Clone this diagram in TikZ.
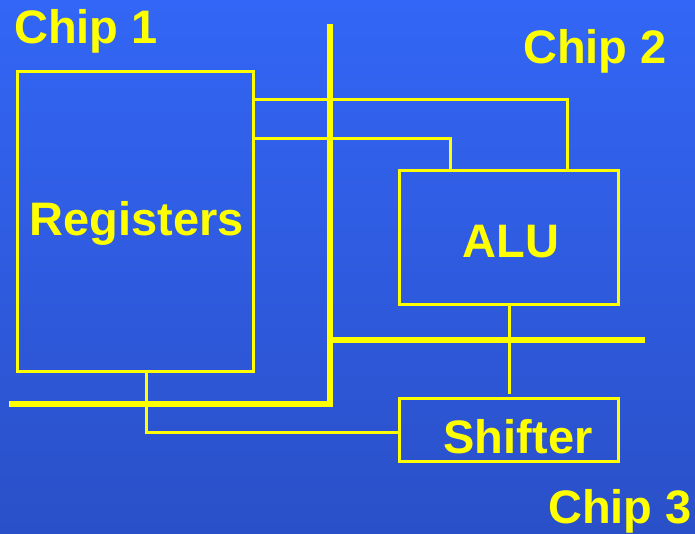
\documentclass[tikz,border=0pt]{standalone}
\usepackage{fontspec}
\setmainfont{Liberation Sans}
\definecolor{bgtop}{RGB}{51,102,246}
\definecolor{bgbot}{RGB}{42,80,200}
\definecolor{wire}{RGB}{255,255,0}
\begin{document}
\begin{tikzpicture}[x=1pt,y=-1pt,
  chipbox/.style={draw=wire,line width=3pt,rectangle,inner sep=0pt,outer sep=0pt},
  wireline/.style={draw=wire,line width=3pt},
  busline/.style={draw=wire,line width=5.5pt},
  lbl/.style={text=wire,font=\bfseries\fontsize{47}{50}\selectfont,inner sep=0pt,anchor=base}]
\shade[top color=bgtop,bottom color=bgbot] (0,0) rectangle (695,534);
\useasboundingbox (0,0) rectangle (695,534);
% boxes
\node[chipbox,minimum width=236pt,minimum height=299pt] (reg) at (135,221.5) {};
\node[chipbox,minimum width=219pt,minimum height=133pt] (alu) at (508.5,237.5) {};
\node[chipbox,minimum width=219pt,minimum height=63pt] (shf) at (508.5,429.5) {};
% labels
\node[lbl] (c1) at (86,44) {Chip 1};
\node[lbl] (c2) at (595,64) {Chip 2};
\node[lbl] (c3) at (620,523) {Chip 3};
\node[lbl] (tr) at (137,236) {Registers};
\node[lbl] (ta) at (511,258) {ALU};
\node[lbl] (ts) at (518,453) {Shifter};
% helper coordinates
\coordinate (w1) at (567,100);
\coordinate (w2) at (450,139);
\coordinate (w3) at (146,432);
\coordinate (btop) at (330,24);
\coordinate (bcorner) at (330,404);
\coordinate (bleft) at (9,404);
\coordinate (bmid) at (330,340);
\coordinate (bright) at (645,340);
% wires
\draw[wireline] (reg.east |- w1) -| (alu.north -| w1);
\draw[wireline] (reg.east |- w2) -| (alu.north -| w2);
\draw[wireline,shorten >=4pt] (alu.south -| 509,0) -- (shf.north -| 509,0);
\draw[wireline] (reg.south -| w3) |- (shf.west |- w3);
% buses
\draw[busline,line join=miter] (btop) -- (bcorner) -- (bleft);
\draw[busline] (bmid) -- (bright);
\end{tikzpicture}
\end{document}
